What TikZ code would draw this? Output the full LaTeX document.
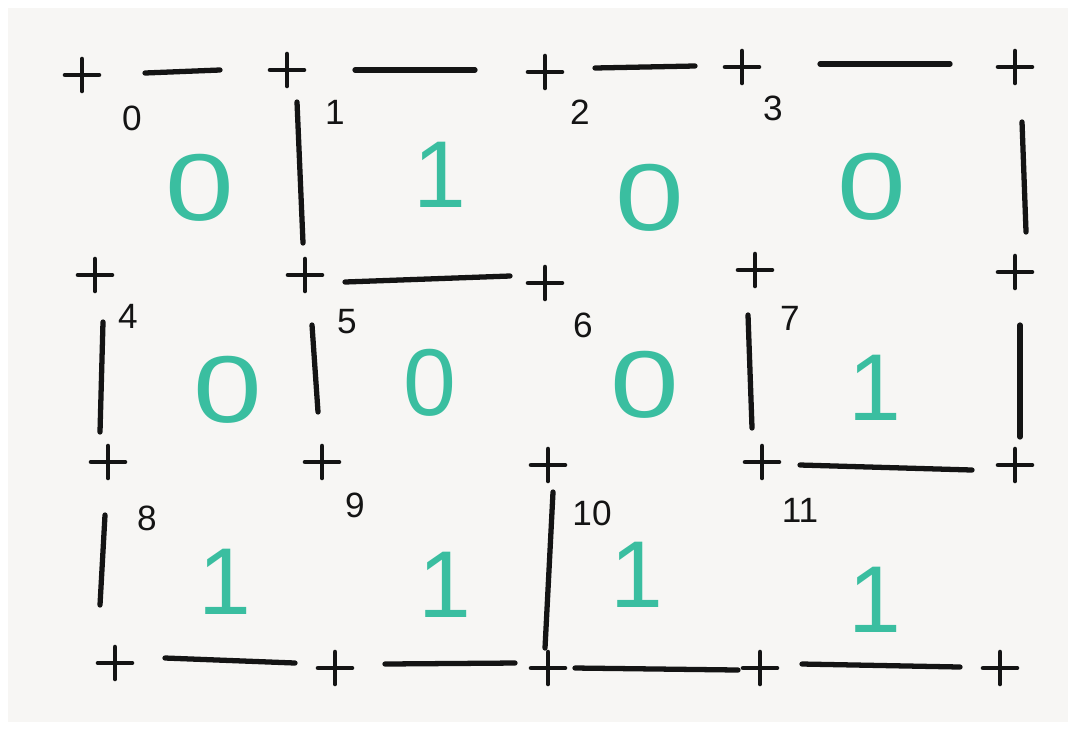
\documentclass[tikz,border=0pt]{standalone}
\usepackage{fontspec}
\usepackage{graphicx}
\setsansfont{Liberation Sans}
\definecolor{board}{RGB}{247,246,244}
\definecolor{ink}{RGB}{20,20,20}
\definecolor{teal}{RGB}{58,190,160}
\tikzset{
  wall/.style={draw=ink, line width=1.5pt, line cap=round},
  crossmark/.pic={\draw[draw=ink, line width=1.3pt, line cap=round] (-17,0) -- (17,0) (0,-16) -- (0,16);},
  idx/.style={text=ink, font=\sffamily\fontsize{10}{10}\selectfont, inner sep=0pt},
  val/.style={text=teal, font=\sffamily\fontsize{27}{27}\selectfont, inner sep=0pt},
}
\newcommand{\zerov}{\scalebox{1.3}[1]{0}}
\begin{document}
\begin{tikzpicture}[x=0.01cm,y=-0.01cm]
\useasboundingbox (0,0) rectangle (1074,730);
\fill[white] (0,0) rectangle (1074,730);
\fill[board] (8,8) rectangle (1068,722);
% corner marks
\pic at (82,75) {crossmark};
\pic at (287,70) {crossmark};
\pic at (545,72) {crossmark};
\pic at (742,67) {crossmark};
\pic at (1015,67) {crossmark};
\pic at (95,275) {crossmark};
\pic at (305,275) {crossmark};
\pic at (545,283) {crossmark};
\pic at (755,270) {crossmark};
\pic at (1015,272) {crossmark};
\pic at (108,462) {crossmark};
\pic at (322,462) {crossmark};
\pic at (548,465) {crossmark};
\pic at (762,462) {crossmark};
\pic at (1015,465) {crossmark};
\pic at (115,663) {crossmark};
\pic at (335,668) {crossmark};
\pic at (548,668) {crossmark};
\pic at (760,668) {crossmark};
\pic at (1000,668) {crossmark};
% top walls
\draw[wall] (145,73) -- (220,70);
\draw[wall] (355,70) -- (475,70);
\draw[wall] (595,68) -- (695,66);
\draw[wall] (820,64) -- (950,64);
% row 0 verticals
\draw[wall] (297,102) -- (303,243);
\draw[wall] (1022,122) -- (1026,232);
% row 1 horizontal
\draw[wall] (345,282) -- (510,276);
% row 1 verticals
\draw[wall] (103,322) -- (100,432);
\draw[wall] (312,325) -- (318,412);
\draw[wall] (748,315) -- (752,428);
\draw[wall] (1020,325) -- (1020,437);
% row 2 horizontal
\draw[wall] (800,465) -- (972,470);
% row 2 verticals
\draw[wall] (105,515) -- (100,605);
\draw[wall] (553,492) -- (545,648);
% bottom walls
\draw[wall] (165,658) -- (295,663);
\draw[wall] (385,664) -- (515,663);
\draw[wall] (575,668) -- (738,670);
\draw[wall] (802,664) -- (960,667);
% cell indices
\node[idx] (n0) at (132,118) {0};
\node[idx] (n1) at (335,112) {1};
\node[idx] (n2) at (580,112) {2};
\node[idx] (n3) at (773,108) {3};
\node[idx] (n4) at (128,316) {4};
\node[idx] (n5) at (347,322) {5};
\node[idx] (n6) at (583,325) {6};
\node[idx] (n7) at (790,318) {7};
\node[idx] (n8) at (147,518) {8};
\node[idx] (n9) at (355,505) {9};
\node[idx] (n10) at (592,513) {10};
\node[idx] (n11) at (800,510) {11};
% cell values
\node[val] (v0) at (200,188) {\zerov};
\node[val] (v1) at (440,175) {1};
\node[val] (v2) at (650,198) {\zerov};
\node[val] (v3) at (872,187) {\zerov};
\node[val] (v4) at (228,390) {\zerov};
\node[val] (v5) at (430,383) {0};
\node[val] (v6) at (645,385) {\zerov};
\node[val] (v7) at (875,388) {1};
\node[val] (v8) at (225,582) {1};
\node[val] (v9) at (445,585) {1};
\node[val] (v10) at (637,575) {1};
\node[val] (v11) at (875,600) {1};
\end{tikzpicture}
\end{document}
